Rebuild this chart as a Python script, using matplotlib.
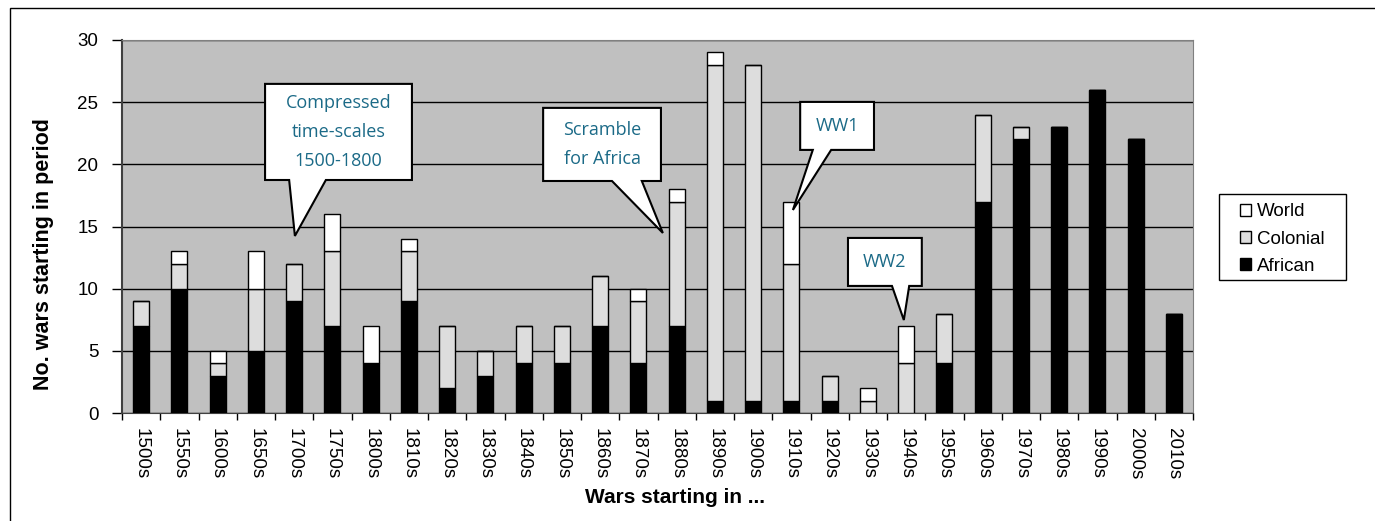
import matplotlib
matplotlib.use("Agg")
import matplotlib.pyplot as plt
from matplotlib.patches import Polygon, Rectangle
import numpy as np

plt.rcParams['font.family'] = ['Liberation Sans', 'DejaVu Sans']

periods = ["1500s", "1550s", "1600s", "1650s", "1700s", "1750s", "1800s", "1810s",
           "1820s", "1830s", "1840s", "1850s", "1860s", "1870s", "1880s", "1890s",
           "1900s", "1910s", "1920s", "1930s", "1940s", "1950s", "1960s", "1970s",
           "1980s", "1990s", "2000s", "2010s"]
african = [7, 10, 3, 5, 9, 7, 4, 9, 2, 3, 4, 4, 7, 4, 7, 1, 1, 1, 1, 0, 0, 4, 17, 22, 23, 26, 22, 8]
colonial = [2, 2, 1, 5, 3, 6, 0, 4, 5, 2, 3, 3, 4, 5, 10, 27, 27, 11, 2, 1, 4, 4, 7, 1, 0, 0, 0, 0]
world = [0, 1, 1, 3, 0, 3, 3, 1, 0, 0, 0, 0, 0, 1, 1, 1, 0, 5, 0, 1, 3, 0, 0, 0, 0, 0, 0, 0]

callout_texts = ["Compressed\ntime-scales\n1500-1800", "Scramble\nfor Africa", "WW1", "WW2"]

W, H = 1375, 521
fig = plt.figure(figsize=(W / 100, H / 100), dpi=100)
ax = fig.add_axes([122 / W, 1 - 413 / H, (1193 - 122) / W, (413 - 40) / H])
ax.set_facecolor('#C0C0C0')

# outer border
fig.patches.append(Rectangle((10 / W, -0.05), 1.2, 1 - 8 / H + 0.05, transform=fig.transFigure,
                             fill=False, edgecolor='black', linewidth=1.0, zorder=0))

x = np.arange(len(periods))
a = np.array(african)
c = np.array(colonial)
w = np.array(world)
bw = 0.42
ek = dict(edgecolor='black', linewidth=1.0, zorder=3)
ax.bar(x, a, bw, color='black', label='African', **ek)
ax.bar(x, c, bw, bottom=a, color='#DDDDDD', label='Colonial', **ek)
ax.bar(x, w, bw, bottom=a + c, color='white', label='World', **ek)

ax.set_xlim(-0.5, len(periods) - 0.5)
ax.set_ylim(0, 30)
ax.set_yticks(range(0, 31, 5))
ax.yaxis.grid(True, color='black', linewidth=1.0)
ax.set_axisbelow(True)
ax.set_xticks(x)
ax.set_xticklabels(periods, rotation=270, fontsize=13.5)
ax.tick_params(axis='y', labelsize=13.5, length=7, width=1, pad=10, direction='out')
ax.set_xticks(np.arange(-0.5, len(periods), 1), minor=True)
ax.tick_params(axis='x', which='minor', length=5, width=1, direction='out')
ax.tick_params(axis='x', which='major', length=0, pad=11)
for s in ['top', 'right']:
    ax.spines[s].set_color('#808080')
ax.spines['left'].set_color('#404040')
ax.spines['left'].set_linewidth(1.5)
ax.spines['bottom'].set_color('#404040')

ax.set_ylabel('No. wars starting in period', fontsize=15.5, fontweight='bold')
ax.yaxis.set_label_coords(-0.0635, 0.426)
ax.set_xlabel('Wars starting in ...', fontsize=15, fontweight='bold', labelpad=6)
ax.xaxis.label.set_x(0.516)

# legend (frame drawn separately to match the reference padding)
handles, labels = ax.get_legend_handles_labels()
leg = fig.legend(handles[::-1], labels[::-1], loc='center left',
                 bbox_to_anchor=(1240 / W, 1 - 239 / H), fontsize=13.5,
                 frameon=False, handlelength=0.6, handleheight=0.6, handletextpad=0.3,
                 borderpad=0, labelspacing=0.55, borderaxespad=0)
fig.patches.append(Rectangle((1219 / W, 1 - 280 / H), 127 / W, 86 / H, transform=fig.transFigure,
                             fill=False, edgecolor='black', linewidth=1.0))

# callouts: box (x0, x1, y0, y1), tail base (bx0, bx1), tip (tx, ty) in data coords
callouts = [
    ((3.24, 7.08, 18.74, 26.47), (3.87, 4.83), (4.02, 14.24)),
    ((10.51, 13.59, 18.66, 24.54), (12.31, 13.09), (13.64, 14.48)),
    ((17.23, 19.16, 21.16, 25.02), (17.56, 18.04), (17.04, 16.33)),
    ((18.48, 20.41, 10.22, 14.08), (19.63, 20.08), (19.94, 7.48)),
]
teal = '#1B6A87'
for txt, (box, base, tip) in zip(callout_texts, callouts):
    x0, x1, y0, y1 = box
    bx0, bx1 = base
    tx, ty = tip
    poly = [(x0, y1), (x1, y1), (x1, y0), (bx1, y0), (tx, ty), (bx0, y0), (x0, y0)]
    ax.add_patch(Polygon(poly, closed=True, facecolor='white', edgecolor='black',
                         linewidth=1.5, zorder=5, joinstyle='miter'))
    ax.text((x0 + x1) / 2, (y0 + y1) / 2, txt, ha='center', va='center', color=teal,
            fontsize=13, family=['Open Sans', 'DejaVu Sans'], linespacing=1.8, zorder=6)

fig.savefig('out.png', dpi=100, facecolor='white')
